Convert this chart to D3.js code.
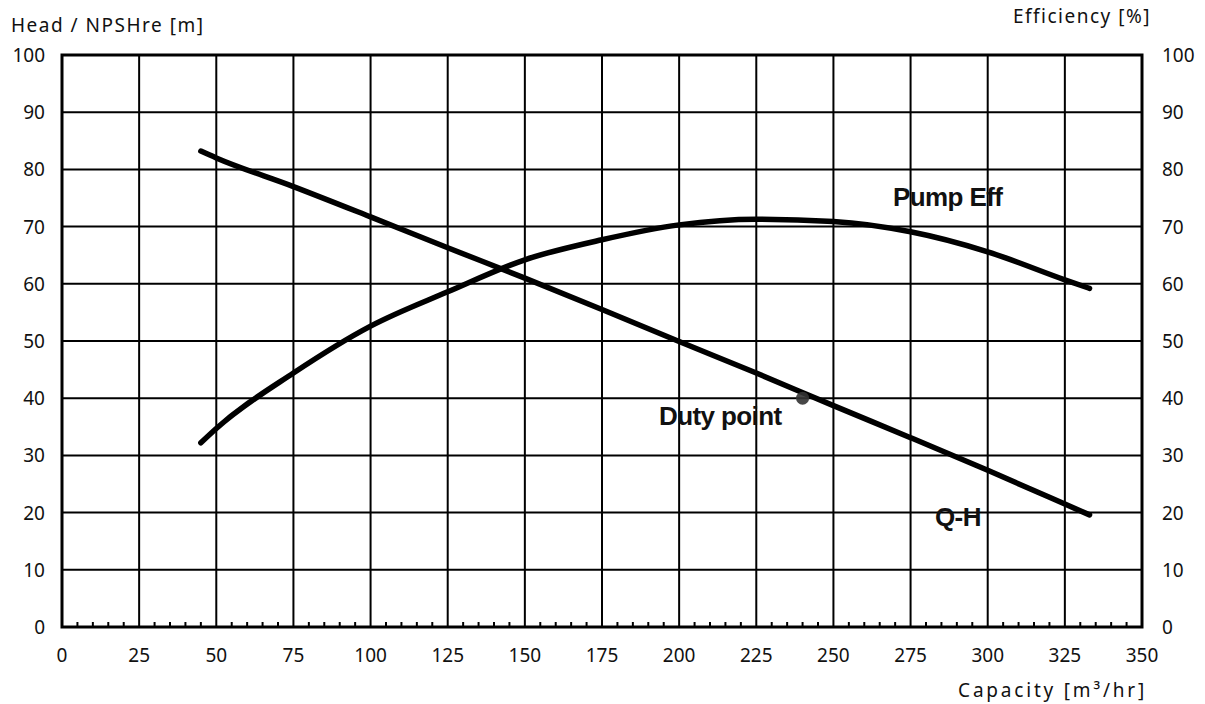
<!DOCTYPE html>
<html>
<head>
<meta charset="utf-8">
<script src="https://cdn.jsdelivr.net/npm/d3@7"></script>
<style>
  body { margin: 0; background: #fff; }
  svg { display: block; }
  .tick-label { font-family: "Noto Sans", "DejaVu Sans", sans-serif; font-size: 19px; fill: #111; }
  .axis-title { font-family: "Noto Sans", "DejaVu Sans", sans-serif; font-size: 19px; fill: #111; letter-spacing: 1.5px; }
  .curve-label { font-family: "Liberation Sans", Arial, sans-serif; font-size: 26px; font-weight: bold; fill: #111; letter-spacing: -0.6px; }
</style>
</head>
<body>
<svg id="chart"></svg>
<script>
// ---- Data ----
const qhFlow = [45, 50, 75, 100, 125, 150, 175, 200, 225, 250, 275, 300, 325, 333];
const qhHead = [83.2, 82.0, 77.0, 71.7, 66.3, 61.0, 55.5, 49.9, 44.4, 38.7, 33.1, 27.4, 21.5, 19.6];

const effFlow = [45, 50, 75, 100, 125, 150, 175, 200, 225, 250, 275, 300, 325, 333];
const effValue = [32.2, 34.7, 44.4, 52.6, 58.6, 64.2, 67.7, 70.3, 71.3, 70.9, 69.1, 65.6, 60.7, 59.2];

const dutyPoint = [240, 40];

const xTicks = [0, 25, 50, 75, 100, 125, 150, 175, 200, 225, 250, 275, 300, 325, 350];
const yTicks = [0, 10, 20, 30, 40, 50, 60, 70, 80, 90, 100];

(function () {
  const width = 1205, height = 704;
  const margin = { left: 62, right: 63, top: 55, bottom: 77 };
  const svg = d3.select('#chart').attr('width', width).attr('height', height);

  const x = d3.scaleLinear().domain([0, 350]).range([margin.left, width - margin.right]);
  const y = d3.scaleLinear().domain([0, 100]).range([height - margin.bottom, margin.top]);
  // right axis (efficiency) shares the same 0-100 span
  const yEff = d3.scaleLinear().domain([0, 100]).range([height - margin.bottom, margin.top]);

  // ---- Grid ----
  const grid = svg.append('g').attr('stroke', '#000').attr('stroke-width', 2);
  grid.selectAll('.vg').data(xTicks.slice(1, -1)).enter().append('line')
    .attr('x1', d => x(d)).attr('x2', d => x(d))
    .attr('y1', y(0)).attr('y2', y(100));
  grid.selectAll('.hg').data(yTicks.slice(1, -1)).enter().append('line')
    .attr('x1', x(0)).attr('x2', x(350))
    .attr('y1', d => y(d)).attr('y2', d => y(d));

  // minor ticks on the x axis, pointing up
  const minor = d3.range(0, 351, 5).filter(v => v % 25 !== 0);
  svg.append('g').selectAll('line').data(minor).enter().append('line')
    .attr('x1', d => x(d)).attr('x2', d => x(d))
    .attr('y1', y(0)).attr('y2', y(0) - 5)
    .attr('stroke', '#000').attr('stroke-width', 2);

  // frame
  svg.append('rect')
    .attr('x', x(0)).attr('y', y(100))
    .attr('width', x(350) - x(0)).attr('height', y(0) - y(100))
    .attr('fill', 'none').attr('stroke', '#000').attr('stroke-width', 3);

  // ---- Tick labels ----
  svg.append('g').selectAll('text').data(xTicks).enter().append('text')
    .attr('class', 'tick-label')
    .attr('x', d => x(d)).attr('y', y(0) + 35)
    .attr('text-anchor', 'middle')
    .text(d => d);
  svg.append('g').selectAll('text').data(yTicks).enter().append('text')
    .attr('class', 'tick-label')
    .attr('x', x(0) - 17).attr('y', d => y(d) + 7)
    .attr('text-anchor', 'end')
    .text(d => d);
  svg.append('g').selectAll('text').data(yTicks).enter().append('text')
    .attr('class', 'tick-label')
    .attr('x', x(350) + 20).attr('y', d => yEff(d) + 7)
    .attr('text-anchor', 'start')
    .text(d => d);

  // ---- Axis titles ----
  svg.append('text').attr('class', 'axis-title')
    .attr('x', 11).attr('y', 32).text('Head / NPSHre [m]');
  svg.append('text').attr('class', 'axis-title')
    .attr('x', 1151).attr('y', 23).attr('text-anchor', 'end').text('Efficiency [%]');
  svg.append('text').attr('class', 'axis-title')
    .attr('x', 1147).attr('y', 697).attr('text-anchor', 'end')
    .style('letter-spacing', '2.8px')
    .text('Capacity [m³/hr]');

  // ---- Curves ----
  const qhLine = d3.line().curve(d3.curveMonotoneX)
    .x((d, i) => x(qhFlow[i])).y(d => y(d));
  const effLine = d3.line().curve(d3.curveMonotoneX)
    .x((d, i) => x(effFlow[i])).y(d => yEff(d));

  svg.append('path').datum(qhHead)
    .attr('d', qhLine)
    .attr('fill', 'none').attr('stroke', '#000')
    .attr('stroke-width', 5.5).attr('stroke-linecap', 'round').attr('stroke-linejoin', 'round');
  svg.append('path').datum(effValue)
    .attr('d', effLine)
    .attr('fill', 'none').attr('stroke', '#000')
    .attr('stroke-width', 5.5).attr('stroke-linecap', 'round').attr('stroke-linejoin', 'round');

  // duty point
  svg.append('circle')
    .attr('cx', x(dutyPoint[0])).attr('cy', y(dutyPoint[1]))
    .attr('r', 6.5).attr('fill', '#333').attr('opacity', 0.9);

  // ---- Curve labels ----
  svg.append('text').attr('class', 'curve-label')
    .attr('x', 893).attr('y', 206).text('Pump Eff');
  svg.append('text').attr('class', 'curve-label')
    .attr('x', 659).attr('y', 425).text('Duty point');
  svg.append('text').attr('class', 'curve-label')
    .attr('x', 935).attr('y', 526).text('Q-H');
})();
</script>
</body>
</html>
